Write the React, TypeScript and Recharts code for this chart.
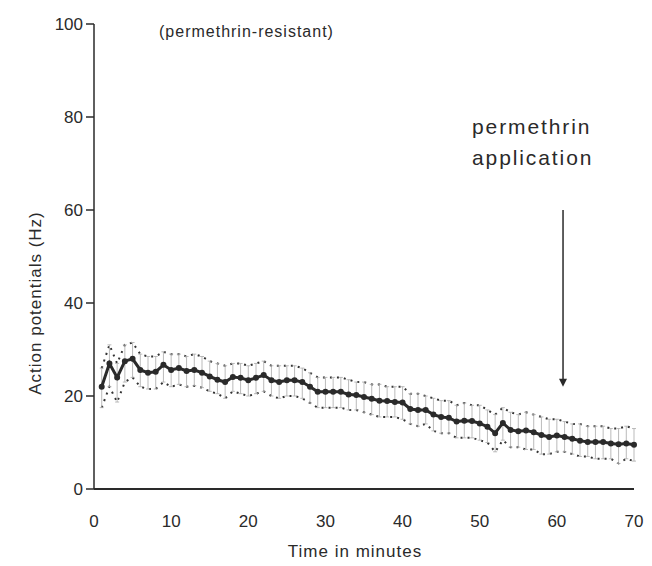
import { LineChart, Line, XAxis, YAxis, ErrorBar, ReferenceLine } from 'recharts';

// time in minutes
const minutes = [
    1, 2, 3, 4, 5, 6, 7, 8, 9, 10, 11, 12, 13, 14, 15, 16, 17, 18, 19, 20,
    21, 22, 23, 24, 25, 26, 27, 28, 29, 30, 31, 32, 33, 34, 35, 36, 37, 38, 39, 40,
    41, 42, 43, 44, 45, 46, 47, 48, 49, 50, 51, 52, 53, 54, 55, 56, 57, 58, 59, 60,
    61, 62, 63, 64, 65, 66, 67, 68, 69, 70
];

// mean firing rate (Hz)
const meanHz = [
    22, 27, 24, 27.5, 28, 25.6, 25, 25.2, 26.7, 25.6, 26, 25.4, 25.6, 25, 24.2, 23.5, 23, 24.1, 23.9, 23.4,
    23.9, 24.5, 23.4, 23, 23.4, 23.4, 23, 22, 20.9, 20.9, 20.9, 20.9, 20.3, 20.2, 19.8, 19.4, 19, 18.9, 18.7, 18.6,
    17.2, 17, 17, 16, 15.5, 15.3, 14.5, 14.7, 14.6, 14.1, 13.4, 12, 14.2, 12.7, 12.4, 12.6, 12.2, 11.6, 11.2, 11.5,
    11.2, 10.8, 10.4, 10.1, 10.1, 10.1, 9.8, 9.6, 9.8, 9.5
];

// upper dotted band
const upperHz = [
    26, 31, 27, 31, 31.5, 29, 28.5, 28.5, 29.5, 29, 29, 28.5, 29, 28.5, 27.5, 27, 26.5, 27, 27, 26.5,
    27, 27.5, 26.5, 26.5, 26.5, 26.5, 26, 25, 24, 24, 24, 24, 23.5, 23, 23, 22.5, 22.5, 22, 22, 22,
    20.5, 20.5, 20, 19.5, 19, 19, 18, 18.5, 18, 18, 17, 16, 17.5, 16.5, 16, 16.5, 16, 15.5, 15, 15,
    14.5, 14, 14, 13.5, 13.5, 13.5, 13, 13, 13.5, 13
];

// lower dotted band
const lowerHz = [
    17.5, 22, 18.7, 23, 24, 22, 21.5, 21.5, 23, 22, 22.5, 22, 22.2, 21.8, 21, 20.5, 19.5, 21, 20.5, 20,
    20.5, 21, 20, 19.5, 20, 20, 19.5, 18.5, 17.5, 17.5, 17.5, 17.5, 17, 17, 16.5, 16, 15.5, 15.5, 15.5, 15,
    14, 13.5, 14, 12.5, 12, 12, 11, 11, 11, 10.5, 10, 8, 10.5, 9, 9, 8.5, 8.5, 7.5, 7.5, 8,
    8, 7.5, 7, 7, 6.5, 6.5, 6.5, 5.5, 6.5, 6
];

const xTicks = [0, 10, 20, 30, 40, 50, 60, 70];
const yTicks = [0, 20, 40, 60, 80, 100];

const arrowX = 60.8;
const arrowTop = 60;
const arrowBottom = 22;

const ink = '#2a2a2a';
const font = '"Liberation Sans", Arial, sans-serif';

const data = minutes.map((m, i) => ({
    t: m,
    mean: meanHz[i],
    upper: upperHz[i],
    lower: lowerHz[i],
    err: [meanHz[i] - lowerHz[i], upperHz[i] - meanHz[i]],
}));

const Arrow = (props: any) => {
    const { x1, y1, x2, y2 } = props;
    return (
        <g>
            <line x1={x1} y1={y1} x2={x2} y2={y2 - 6} stroke={ink} strokeWidth={1.5} />
            <polygon points={`${x2 - 4},${y2 - 8} ${x2 + 4},${y2 - 8} ${x2},${y2}`} fill={ink} />
        </g>
    );
};

export default function App() {
    return (
        <div style={{ position: 'absolute', left: 0, top: 0, width: 652, height: 566, background: '#fff', fontFamily: font }}>
            <LineChart width={652} height={566} data={data} margin={{ top: 24, right: 18, bottom: 0, left: 0 }}>
                <XAxis
                    dataKey="t"
                    type="number"
                    domain={[0, 70]}
                    ticks={xTicks}
                    interval={0}
                    height={77}
                    tickLine={false}
                    axisLine={{ stroke: ink, strokeWidth: 2 }}
                    tick={{ fill: ink, fontSize: 17, fontFamily: font }}
                    tickMargin={20}
                    label={{
                        content: () => (
                            <text x={355} y={557} textAnchor="middle" fill={ink} fontSize={17} letterSpacing={1} fontFamily={font}>
                                Time in minutes
                            </text>
                        ),
                    }}
                />
                <YAxis
                    type="number"
                    domain={[0, 100]}
                    ticks={yTicks}
                    interval={0}
                    width={94}
                    tickSize={8}
                    tickMargin={3}
                    axisLine={{ stroke: ink, strokeWidth: 1.5 }}
                    tickLine={{ stroke: ink, strokeWidth: 1.5 }}
                    tick={{ fill: ink, fontSize: 17, fontFamily: font }}
                    label={{
                        content: () => (
                            <text transform="translate(41,303) rotate(-90)" textAnchor="middle" fill={ink} fontSize={17} letterSpacing={1} fontFamily={font}>
                                Action potentials (Hz)
                            </text>
                        ),
                    }}
                />
                <ReferenceLine
                    segment={[{ x: arrowX, y: arrowTop }, { x: arrowX, y: arrowBottom }]}
                    shape={Arrow}
                />
                <Line dataKey="upper" stroke="#333" strokeWidth={2} strokeDasharray="2 5" dot={false} isAnimationActive={false} />
                <Line dataKey="lower" stroke="#333" strokeWidth={2} strokeDasharray="2 5" dot={false} isAnimationActive={false} />
                <Line dataKey="mean" stroke={ink} strokeWidth={3} dot={{ r: 1.5, fill: ink, stroke: ink }} isAnimationActive={false}>
                    <ErrorBar dataKey="err" width={2} stroke="#aaa" strokeWidth={0.8} direction="y" />
                </Line>
            </LineChart>
            <div style={{ position: 'absolute', left: 159, top: 23, fontSize: 16, letterSpacing: 1, color: ink }}>
                (permethrin-resistant)
            </div>
            <div style={{ position: 'absolute', left: 472, top: 111, fontSize: 21, letterSpacing: 1.9, lineHeight: '31px', color: ink }}>
                permethrin
                <br />
                application
            </div>
        </div>
    );
}
